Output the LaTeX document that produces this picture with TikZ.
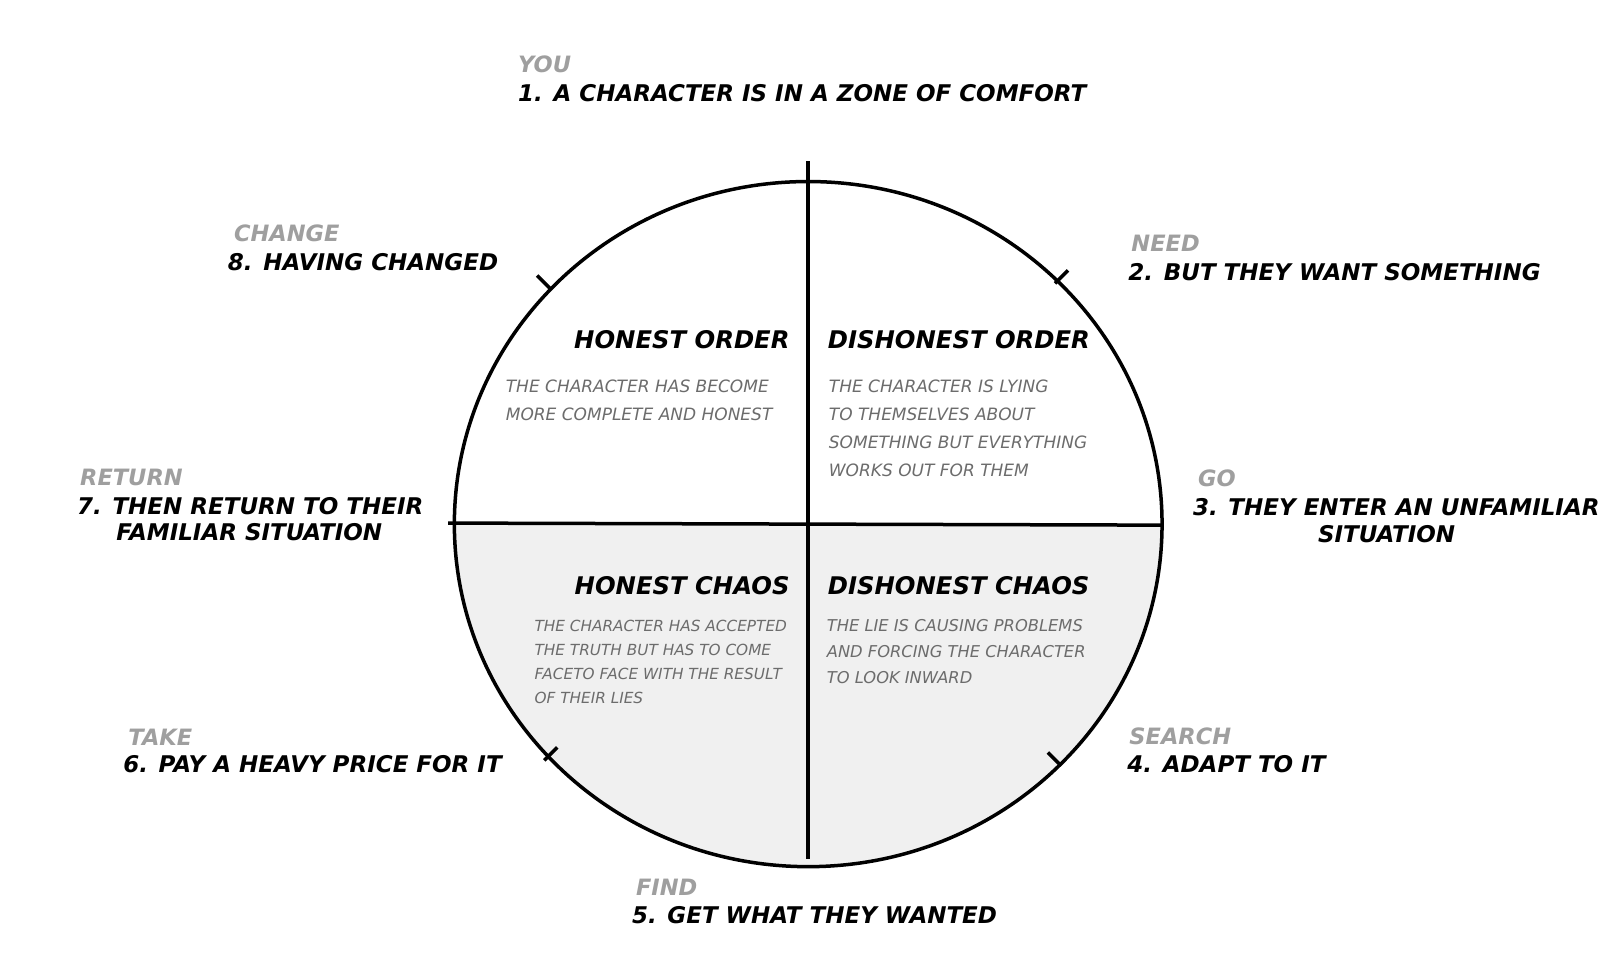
\documentclass[tikz,border=0pt]{standalone}
\usepackage{fontspec}
\setmainfont{DejaVu Sans}
\begin{document}
\begin{tikzpicture}[x=1.0256pt,y=-1.0256pt,
  lab/.style={font=\fontsize{23}{24}\selectfont\bfseries\itshape, inner sep=0pt, anchor=west},
  tag/.style={font=\fontsize{22.5}{22}\selectfont\bfseries\itshape, text=gray!75, inner sep=0pt, anchor=west},
  quad/.style={font=\fontsize{24.3}{26}\selectfont\bfseries\itshape, inner sep=0pt},
  body/.style={font=\fontsize{17}{28}\selectfont\itshape, text=gray!85!black, inner sep=0pt, align=left, anchor=north west},
  tick/.style={line width=3.5pt}]
\useasboundingbox (0,0) rectangle (1560,955.5);
\coordinate (c) at (788,511);
\begin{scope}
\clip (437,511) rectangle (1140,850);
\fill[gray!12] (c) ellipse [x radius=345, y radius=334];
\end{scope}
\draw[line width=3.5pt] (c) ellipse [x radius=345, y radius=334];
\coordinate (vt) at (788,157); \coordinate (vb) at (788,838);
\coordinate (hl) at (437,510); \coordinate (hr) at (1133,512);
\draw[line width=3.5pt] (vt) -- (vb);
\draw[line width=3.5pt] (hl) -- (hr);
\foreach \x/\y/\a in {530/275/45, 1035/270/-45, 537/735/-45, 1028/740/45}
  \draw[tick] (\x,\y) ++(\a:9) -- ++(\a+180:18);

\node[tag] (t1) at (505,63) {YOU};
\node[lab] (l1) at (505,91) {1. A CHARACTER IS IN A ZONE OF COMFORT};
\node[tag] (t8) at (228,227) {CHANGE};
\node[lab] (l8) at (222,256) {8. HAVING CHANGED};
\node[tag] (t2) at (1103,237) {NEED};
\node[lab] (l2) at (1100,265) {2. BUT THEY WANT SOMETHING};
\node[tag] (t7) at (78,466) {RETURN};
\node[lab] (l7) at (75,493) {7. THEN RETURN TO THEIR};
\node[lab,anchor=center] (l7b) at (243,519) {FAMILIAR SITUATION};
\node[tag] (t3) at (1168,466) {GO};
\node[lab] (l3) at (1163,494) {3. THEY ENTER AN UNFAMILIAR};
\node[lab,anchor=center] (l3b) at (1352,521) {SITUATION};
\node[tag] (t6) at (125,719) {TAKE};
\node[lab] (l6) at (120,745) {6. PAY A HEAVY PRICE FOR IT};
\node[tag] (t4) at (1101,718) {SEARCH};
\node[lab] (l4) at (1099,745) {4. ADAPT TO IT};
\node[tag] (t5) at (620,865) {FIND};
\node[lab] (l5) at (616,892) {5. GET WHAT THEY WANTED};

\node[quad,anchor=east] (q1) at (770,331) {HONEST ORDER};
\node[quad,anchor=west] (q2) at (807,331) {DISHONEST ORDER};
\node[quad,anchor=east] (q3) at (770,571) {HONEST CHAOS};
\node[quad,anchor=west] (q4) at (807,571) {DISHONEST CHAOS};

\node[body] (b1) at (493,370) {THE CHARACTER HAS BECOME\\MORE COMPLETE AND HONEST};
\node[body] (b2) at (808,370) {THE CHARACTER IS LYING\\TO THEMSELVES ABOUT\\SOMETHING BUT EVERYTHING\\WORKS OUT FOR THEM};
\node[body,font=\fontsize{15.3}{24}\selectfont\itshape] (b3) at (521,604) {THE CHARACTER HAS ACCEPTED\\THE TRUTH BUT HAS TO COME\\FACETO FACE WITH THE RESULT\\OF THEIR LIES};
\node[body,font=\fontsize{16.3}{26}\selectfont\itshape] (b4) at (806,604) {THE LIE IS CAUSING PROBLEMS\\AND FORCING THE CHARACTER\\TO LOOK INWARD};
\end{tikzpicture}
\end{document}
